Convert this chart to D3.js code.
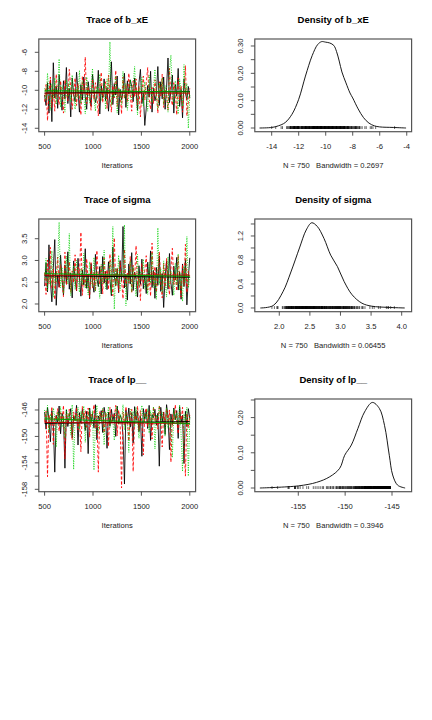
<!DOCTYPE html>
<html><head><meta charset="utf-8">
<script src="https://cdn.jsdelivr.net/npm/d3@7"></script>
<style>body{margin:0;background:#fff}svg{display:block}text{font-family:"Liberation Sans",Arial,Helvetica,sans-serif;white-space:pre}</style>
</head><body><svg id="c" width="432" height="720"></svg>
<script>
// ---------------- DATA ----------------
const iterStart = 500, iterEnd = 2000, iterStep = 15;
const params = ["b_xE", "sigma", "lp__"];
const chainColors = ["#000000", "#FF0000", "#00D000"];

const bxE_c1 = [-10.5,-11.6,-9.2,-12.4,-8.9,-13.3,-7.1,-10.8,-9.6,-11.9,
 -8.4,-10.2,-12.1,-9.0,-10.9,-7.6,-11.4,-9.8,-12.8,-8.7,
 -10.4,-11.2,-8.1,-10.0,-12.3,-9.4,-11.0,-8.6,-10.7,-12.0,
 -9.1,-10.3,-11.7,-8.3,-9.9,-11.3,-10.6,-7.9,-12.5,-9.5,
 -10.8,-8.8,-11.1,-9.7,-12.2,-10.1,-7.0,-11.5,-9.3,-10.5,
 -8.5,-12.6,-9.9,-11.0,-10.2,-8.2,-11.8,-9.0,-10.4,-8.9,
 -9.6,-11.2,-8.7,-10.0,-12.1,-9.2,-7.8,-11.4,-10.3,-13.7,
 -11.9,-9.5,-10.7,-8.0,-12.3,-9.8,-11.1,-10.4,-7.5,-11.6,
 -9.1,-10.9,-8.6,-12.0,-9.7,-6.6,-11.3,-10.1,-8.4,-12.4,
 -9.4,-10.6,-7.7,-11.7,-9.9,-12.9,-8.8,-10.3,-11.0,-9.6,-10.8];
const bxE_c2 = [-11.2,-9.4,-13.2,-10.1,-8.6,-11.8,-9.9,-12.2,-8.3,-10.6,
 -11.5,-9.0,-10.8,-12.4,-8.9,-10.3,-11.1,-7.8,-9.7,-12.0,
 -10.5,-8.7,-11.6,-9.3,-10.9,-12.6,-8.5,-10.2,-6.5,-11.4,
 -9.6,-10.7,-12.1,-8.8,-11.0,-9.2,-10.4,-12.7,-9.9,-8.1,
 -11.3,-10.0,-9.1,-11.9,-8.4,-10.6,-12.3,-9.5,-10.8,-7.9,
 -11.7,-9.8,-10.3,-12.5,-8.6,-10.9,-9.4,-11.2,-8.2,-10.5,
 -12.2,-9.0,-10.7,-8.8,-11.5,-9.6,-12.8,-10.1,-8.5,-11.0,
 -9.3,-7.6,-10.9,-12.0,-9.7,-11.4,-8.9,-10.2,-12.4,-9.1,
 -10.6,-8.3,-11.8,-9.9,-10.4,-12.1,-7.7,-10.8,-11.6,-9.2,
 -10.0,-12.6,-8.7,-11.1,-9.5,-12.3,-10.3,-7.4,-12.7,-11.3,-9.8];
const bxE_c3 = [-9.8,-11.0,-8.2,-10.6,-12.1,-9.3,-10.9,-8.7,-11.5,-10.0,
 -6.7,-11.8,-9.5,-10.4,-12.3,-8.9,-10.7,-9.1,-11.2,-8.4,
 -10.3,-12.0,-9.7,-10.8,-7.9,-11.4,-9.0,-10.5,-12.5,-8.6,
 -10.1,-11.3,-9.4,-7.7,-10.9,-12.2,-9.6,-10.2,-8.3,-11.1,
 -10.6,-9.2,-12.0,-8.8,-10.4,-4.9,-11.6,-9.9,-10.7,-8.5,
 -12.4,-9.7,-10.1,-11.5,-8.0,-10.8,-9.3,-12.1,-10.5,-8.9,
 -11.0,-9.4,-7.5,-10.6,-12.6,-9.8,-10.3,-8.6,-11.7,-9.1,
 -10.9,-12.2,-8.4,-10.0,-11.3,-9.6,-7.8,-10.7,-12.0,-9.2,
 -10.4,-8.7,-11.5,-9.5,-10.2,-12.3,-8.1,-6.3,-10.8,-11.4,
 -9.0,-10.6,-12.5,-8.8,-10.1,-11.7,-7.3,-10.4,-9.3,-14.0,-10.5];

const sigma_c1 = [2.41,2.95,2.28,3.36,2.52,2.05,2.83,3.48,1.97,2.66,
 2.39,3.12,2.58,2.21,2.90,2.47,3.20,2.34,2.71,2.14,
 2.99,2.55,2.30,3.05,2.62,2.18,2.78,2.44,3.27,2.36,
 2.69,2.12,2.93,2.50,2.27,3.14,2.59,2.40,2.86,2.23,
 3.09,2.48,2.75,2.33,2.97,2.56,2.19,3.31,2.64,2.42,
 2.81,2.26,3.00,2.53,3.78,2.37,2.68,2.09,2.92,2.46,
 3.18,2.31,2.73,2.57,2.16,2.88,2.45,3.03,2.35,2.65,
 2.24,2.96,2.51,3.22,2.38,2.77,2.13,2.84,2.43,3.10,
 2.29,2.70,1.92,2.61,2.98,2.34,3.16,2.49,2.20,2.87,
 2.55,3.07,2.32,2.74,2.11,2.92,2.40,3.02,1.98,2.60,3.06];
const sigma_c2 = [2.72,2.22,3.01,2.46,3.30,2.35,2.81,2.10,2.63,3.08,
 2.38,2.90,2.54,2.17,3.19,2.43,2.67,2.98,2.26,2.76,
 2.49,3.13,2.31,2.85,2.58,3.65,2.20,2.69,2.41,3.04,
 2.53,2.15,2.95,2.37,2.74,2.29,3.23,2.60,2.45,2.88,
 2.23,3.06,2.50,2.79,2.33,3.15,2.65,2.19,3.52,2.44,
 2.83,2.28,2.97,2.56,2.12,3.26,2.39,2.71,2.48,3.09,
 2.25,2.89,2.57,3.34,2.36,2.66,2.08,2.94,2.47,2.78,
 3.11,2.32,2.62,2.18,3.40,2.42,2.86,2.27,2.70,3.20,
 2.51,2.14,2.93,2.39,3.05,2.58,2.21,2.82,3.28,2.45,
 2.68,2.30,3.12,2.54,2.16,2.91,2.43,3.37,2.26,2.75,2.64];
const sigma_c3 = [2.55,3.05,2.30,2.78,2.42,3.22,2.15,2.68,2.50,2.93,
 3.88,2.37,2.84,2.24,2.71,3.10,2.46,3.62,2.19,2.60,
 2.89,2.33,3.01,2.56,2.27,2.80,2.44,3.17,2.36,2.65,
 2.21,2.97,2.52,2.40,3.07,2.29,2.74,2.58,2.13,2.91,
 2.47,3.24,2.35,2.70,2.55,2.98,2.23,3.78,1.88,2.83,
 2.43,3.12,2.31,2.77,2.61,3.82,1.96,2.66,2.49,3.00,
 2.28,2.86,2.53,2.17,3.14,2.41,2.73,2.57,3.03,2.34,
 2.69,2.22,2.95,2.48,3.18,2.38,2.63,2.11,3.75,2.45,
 2.81,2.26,2.99,2.52,2.16,3.08,2.39,2.76,2.59,2.20,
 2.94,2.44,3.15,2.32,2.71,2.06,2.87,2.50,3.55,2.37,2.62];

const lp_c1 = [-146.3,-148.9,-145.6,-147.4,-150.8,-146.1,-148.2,-155.4,-146.8,-147.9,
 -145.4,-149.6,-146.5,-147.2,-154.8,-146.0,-148.5,-147.0,-145.8,-150.2,
 -146.9,-147.6,-145.3,-151.3,-146.4,-148.0,-145.9,-147.3,-149.1,-146.2,
 -152.6,-145.7,-147.8,-146.6,-148.7,-145.2,-150.5,-146.9,-147.5,-146.1,
 -149.4,-145.6,-147.1,-151.8,-146.3,-148.4,-145.9,-147.7,-146.5,-150.0,
 -145.4,-148.1,-146.8,-147.3,-149.8,-157.2,-146.0,-147.9,-145.7,-148.6,
 -146.4,-151.0,-145.5,-147.6,-146.2,-149.3,-146.9,-153.0,-145.8,-147.4,
 -146.1,-148.8,-145.3,-150.6,-146.7,-147.2,-145.9,-148.3,-146.5,-154.5,
 -145.6,-147.8,-146.3,-149.7,-145.2,-147.0,-152.0,-146.6,-148.2,-145.7,
 -147.5,-146.1,-150.3,-145.5,-147.9,-146.8,-154.1,-146.2,-148.5,-145.8,-147.3];
const lp_c2 = [-147.8,-146.2,-156.1,-146.7,-148.4,-145.5,-151.2,-146.9,-147.5,-145.8,
 -149.2,-146.4,-147.9,-145.3,-153.4,-146.6,-148.1,-145.9,-147.2,-150.5,
 -146.3,-147.7,-145.6,-149.0,-146.8,-152.3,-145.4,-147.4,-146.1,-148.6,
 -145.7,-150.1,-146.5,-147.0,-145.2,-148.8,-146.9,-155.4,-146.2,-147.6,
 -145.8,-149.5,-146.4,-147.3,-151.5,-145.6,-148.0,-146.7,-147.1,-145.3,
 -149.9,-146.0,-147.8,-157.8,-146.3,-148.3,-145.5,-147.2,-150.7,-146.6,
 -145.9,-155.3,-146.8,-147.5,-145.4,-149.1,-146.1,-147.9,-152.8,-146.5,
 -145.7,-148.5,-146.2,-147.0,-150.4,-145.5,-147.6,-146.9,-148.9,-145.3,
 -147.3,-151.6,-146.4,-148.2,-145.8,-147.7,-146.0,-153.9,-146.7,-148.0,
 -145.2,-147.4,-149.6,-146.3,-147.9,-145.6,-150.9,-156.0,-146.5,-148.7,-146.8];
const lp_c3 = [-146.0,-147.5,-145.3,-149.3,-146.6,-148.1,-145.7,-147.0,-151.6,-146.3,
 -147.8,-145.5,-148.6,-146.9,-150.2,-145.9,-147.3,-146.4,-149.8,-145.2,
 -155.0,-146.7,-147.7,-145.6,-148.9,-146.2,-147.4,-145.4,-150.9,-146.8,
 -147.1,-145.8,-148.3,-146.1,-155.1,-147.6,-145.3,-149.4,-146.5,-147.9,
 -145.7,-151.3,-146.3,-147.2,-145.5,-148.7,-146.9,-147.5,-150.6,-146.0,
 -145.4,-148.2,-146.6,-147.8,-145.2,-149.0,-146.4,-147.3,-152.4,-145.9,
 -147.0,-146.2,-148.5,-145.6,-147.7,-150.3,-146.8,-145.3,-148.0,-146.5,
 -147.4,-145.8,-149.5,-146.1,-147.9,-145.5,-151.9,-146.7,-147.2,-145.4,
 -148.4,-146.3,-147.6,-150.0,-145.7,-148.8,-146.9,-147.1,-153.2,-145.9,
 -147.5,-146.4,-148.2,-145.2,-149.7,-155.3,-146.6,-147.8,-145.6,-156.0,-146.9];

// density curves: [x, density]
const dens_bxE = [[-14.9,0],[-14,0.002],[-13.5,0.008],[-13,0.02],[-12.5,0.05],[-12,0.105],[-11.5,0.19],
 [-11,0.265],[-10.6,0.305],[-10.3,0.316],[-10,0.314],[-9.7,0.311],[-9.4,0.302],[-9.2,0.28],[-9,0.245],
 [-8.8,0.205],[-8.5,0.165],[-8.2,0.128],[-8,0.11],[-7.6,0.07],[-7.2,0.038],[-6.8,0.018],[-6.4,0.008],
 [-6,0.004],[-5,0.002],[-4.05,0]];
const dens_sigma = [[1.69,0],[1.90,0.04],[2.06,0.27],[2.19,0.6],[2.33,1.0],[2.44,1.3],[2.53,1.42],
 [2.62,1.36],[2.73,1.16],[2.84,0.88],[2.95,0.69],[3.06,0.44],[3.19,0.22],[3.35,0.08],[3.51,0.03],
 [3.78,0.01],[4.05,0]];
const dens_lp = [[-159.1,0],[-155,0.006],[-153.05,0.016],[-151.64,0.032],[-150.58,0.056],[-150.05,0.093],
 [-149.34,0.122],[-148.64,0.169],[-147.93,0.216],[-147.1,0.243],[-146.35,0.226],[-145.8,0.178],
 [-145.29,0.093],[-144.93,0.037],[-144.4,0.008],[-143.6,0]];

const bandwidths = ["0.2697", "0.06455", "0.3946"];
const nSamples = 750;

// axis ticks
const traceXTicks = [500, 1000, 1500, 2000];
const traceYTicks = [[-14,-12,-10,-8,-6],[2.0,2.5,3.0,3.5],[-158,-156,-154,-152,-150,-148,-146]];
const traceYLabels = [["-14","-12","-10","-8","-6"],["2.0","2.5","3.0","3.5"],["-158","","-154","","-150","","-146"]];
const densXTicks = [[-14,-12,-10,-8,-6,-4],[2.0,2.5,3.0,3.5,4.0],[-155,-150,-145]];
const densXLabels = [["-14","-12","-10","-8","-6","-4"],["2.0","2.5","3.0","3.5","4.0"],["-155","-150","-145"]];
const densYTicks = [[0,0.05,0.10,0.15,0.20,0.25,0.30],[0,0.2,0.4,0.6,0.8,1.0,1.2,1.4],[0,0.05,0.10,0.15,0.20,0.25]];
const densYLabels = [["0.00","","0.10","","0.20","","0.30"],["0.0","","0.4","","0.8","","1.2",""],["0.00","","0.10","","0.20",""]];

// axis limits (like xlim / ylim)
const traceXLim = [440, 2060];
const traceYLim = [[-14.36,-4.6],[1.823,3.953],[-158.36,-144.34]];
const densXLim = [[-15.25,-3.64],[1.600,4.162],[-159.64,-142.91]];
const densYLim = [[-0.0135,0.3256],[-0.062,1.483],[-0.0105,0.2528]];

// ---------------- DRAW ----------------
const chains = [[bxE_c1,bxE_c2,bxE_c3],[sigma_c1,sigma_c2,sigma_c3],[lp_c1,lp_c2,lp_c3]];
const densities = [dens_bxE, dens_sigma, dens_lp];
const iters = d3.range(iterStart, iterEnd + 1, iterStep);

const svg = d3.select("#c");
const box = {L: 38.8, R: 195.6, T: 39, B: 131.7};
const rowH = 180, colW = 216;
const fs = 7.6;
const dashes = [null, "3,2", "1,1.4"];
const smoothColors = ["#000000", "#C00000", "#00A000"];

function frame(g){
  g.append("rect").attr("x", box.L).attr("y", box.T)
   .attr("width", box.R - box.L).attr("height", box.B - box.T)
   .attr("fill", "none").attr("stroke", "#555").attr("stroke-width", 1.2);
}
function axes(g, x, y, xt, xl, yt, yl){
  const gx = g.append("g");
  xt.forEach((t,i) => {
    gx.append("line").attr("x1", x(t)).attr("x2", x(t)).attr("y1", box.B).attr("y2", box.B + 4)
      .attr("stroke", "#444").attr("stroke-width", 0.9);
    if (xl[i]) gx.append("text").attr("x", x(t)).attr("y", box.B + 17).attr("text-anchor", "middle")
      .attr("font-size", fs).attr("fill", "#222").text(xl[i]);
  });
  const gy = g.append("g");
  yt.forEach((t,i) => {
    gy.append("line").attr("x1", box.L - 4).attr("x2", box.L).attr("y1", y(t)).attr("y2", y(t))
      .attr("stroke", "#444").attr("stroke-width", 0.9);
    if (yl[i]) gy.append("text").attr("transform", `translate(${box.L - 11.5},${y(t)}) rotate(-90)`)
      .attr("text-anchor", "middle").attr("font-size", fs).attr("fill", "#222").text(yl[i]);
  });
}
function title(g, s){
  g.append("text").attr("x", (box.L + box.R)/2).attr("y", 22.8).attr("text-anchor", "middle")
   .attr("font-size", 9.5).attr("font-weight", "bold").attr("fill", "#000").text(s);
}
function xlab(g, s){
  g.append("text").attr("x", (box.L + box.R)/2).attr("y", 168).attr("text-anchor", "middle")
   .attr("font-size", fs).attr("fill", "#222").attr("xml:space", "preserve").text(s);
}

params.forEach((p, r) => {
  // ---- trace panel ----
  const g = svg.append("g").attr("transform", `translate(0,${r*rowH})`);
  const x = d3.scaleLinear().domain(traceXLim).range([box.L, box.R]);
  const y = d3.scaleLinear().domain(traceYLim[r]).range([box.B, box.T]);
  const clipId = "clip" + r;
  g.append("clipPath").attr("id", clipId).append("rect")
   .attr("x", box.L).attr("y", box.T).attr("width", box.R - box.L).attr("height", box.B - box.T);
  const plot = g.append("g").attr("clip-path", `url(#${clipId})`);
  const line = d3.line().x((d,i) => x(iters[i])).y(d => y(d));
  chains[r].forEach((ch, k) => {
    plot.append("path").attr("d", line(ch)).attr("fill", "none")
      .attr("stroke", chainColors[k]).attr("stroke-width", 1.0)
      .attr("stroke-dasharray", dashes[k]).attr("stroke-opacity", 0.85);
  });
  // smooth (least-squares) line per chain
  chains[r].forEach((ch, k) => {
    const n = ch.length, mx = d3.mean(iters.slice(0, n)), my = d3.mean(ch);
    let sxy = 0, sxx = 0;
    for (let i = 0; i < n; i++){ sxy += (iters[i]-mx)*(ch[i]-my); sxx += (iters[i]-mx)**2; }
    const b = sxy / sxx;
    const ends = [iters[0], iters[n-1]];
    plot.append("path").attr("d", d3.line().x(d => x(d)).y(d => y(my + b*(d - mx)))(ends))
      .attr("fill", "none").attr("stroke", smoothColors[k]).attr("stroke-width", 1.0);
  });
  frame(g);
  axes(g, x, y, traceXTicks, traceXTicks.map(String), traceYTicks[r], traceYLabels[r]);
  title(g, "Trace of " + p);
  xlab(g, "Iterations");

  // ---- density panel ----
  const h = svg.append("g").attr("transform", `translate(${colW},${r*rowH})`);
  const dx = d3.scaleLinear().domain(densXLim[r]).range([box.L, box.R]);
  const dy = d3.scaleLinear().domain(densYLim[r]).range([box.B, box.T]);
  const dens = densities[r];
  h.append("path").attr("d", d3.line().x(d => dx(d[0])).y(d => dy(d[1])).curve(d3.curveCatmullRom)(dens))
   .attr("fill", "none").attr("stroke", "#000").attr("stroke-width", 0.9);
  const all = chains[r].flat();
  const ymax = d3.max(dens, d => d[1]);
  h.append("g").selectAll("line").data(all).join("line")
   .attr("x1", d => dx(d)).attr("x2", d => dx(d))
   .attr("y1", dy(0) + 1).attr("y2", dy(ymax/100) - 1)
   .attr("stroke", "#000").attr("stroke-width", 0.6);
  frame(h);
  axes(h, dx, dy, densXTicks[r], densXLabels[r], densYTicks[r], densYLabels[r]);
  title(h, "Density of " + p);
  xlab(h, `N = ${nSamples}   Bandwidth = ${bandwidths[r]}`);
});
</script></body></html>
